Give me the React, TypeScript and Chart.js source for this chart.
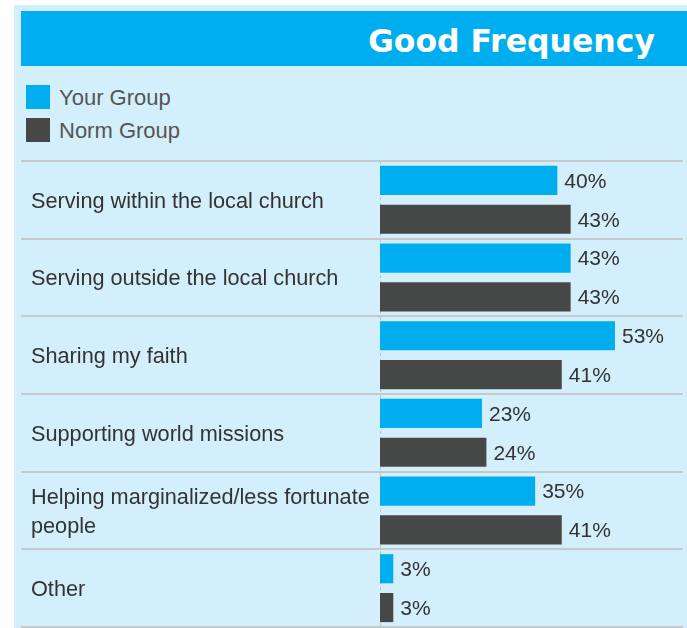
import { useEffect, useRef } from "react";
import { Chart, registerables } from "chart.js";

Chart.register(...registerables);

const TITLE = "Good Frequency";
const SERIES_NAMES = ["Your Group", "Norm Group"];
const CATEGORIES: (string | string[])[] = [
  "Serving within the local church",
  "Serving outside the local church",
  "Sharing my faith",
  "Supporting world missions",
  ["Helping marginalized/less fortunate", "people"],
  "Other",
];
const YOUR_GROUP = [40, 43, 53, 23, 35, 3];
const NORM_GROUP = [43, 43, 41, 24, 41, 3];
const X_MAX = 60;

const BLUE = "#00aeef";
const DARK = "#464847";
const PANEL = "#d4effc";
const SEP = "#c6c9cb";
const FONT = "'Liberation Sans', Arial, sans-serif";
const SERIES_COLORS = [BLUE, DARK];

const framePlugin = {
  id: "frame",
  beforeDatasetsDraw(chart: any) {
    const { ctx } = chart;
    const x = chart.scales.x;
    const y = chart.scales.y;
    const n = CATEGORIES.length;
    ctx.save();
    const x0 = Math.round(x.getPixelForValue(0)) + 0.5;
    ctx.strokeStyle = "#bcc3c7";
    ctx.lineWidth = 1;
    ctx.setLineDash([3, 3]);
    ctx.beginPath();
    ctx.moveTo(x0, y.getPixelForValue(-0.5));
    ctx.lineTo(x0, y.getPixelForValue(n - 0.5));
    ctx.stroke();
    ctx.setLineDash([]);
    ctx.strokeStyle = SEP;
    ctx.lineWidth = 2;
    for (let i = 0; i <= n; i++) {
      const yy = Math.round(y.getPixelForValue(i - 0.5));
      ctx.beginPath();
      ctx.moveTo(21, yy);
      ctx.lineTo(683, yy);
      ctx.stroke();
    }
    ctx.restore();
  },
  afterDatasetsDraw(chart: any) {
    const { ctx } = chart;
    ctx.save();
    ctx.font = `21px ${FONT}`;
    ctx.fillStyle = "#333333";
    ctx.textAlign = "left";
    ctx.textBaseline = "middle";
    chart.data.datasets.forEach((ds: any, di: number) => {
      const meta = chart.getDatasetMeta(di);
      meta.data.forEach((bar: any, i: number) => {
        ctx.fillText(`${ds.data[i]}%`, bar.x + 7, bar.y + 1.5);
      });
    });
    ctx.restore();
  },
};

function App() {
  const canvasRef = useRef<HTMLCanvasElement | null>(null);

  useEffect(() => {
    const canvas = canvasRef.current;
    if (!canvas) return;
    const chart = new Chart(canvas, {
      type: "bar",
      data: {
        labels: CATEGORIES,
        datasets: [
          {
            label: SERIES_NAMES[0],
            data: YOUR_GROUP,
            backgroundColor: BLUE,
            borderWidth: 0,
            categoryPercentage: 1,
            barPercentage: 0.75,
          },
          {
            label: SERIES_NAMES[1],
            data: NORM_GROUP,
            backgroundColor: DARK,
            borderWidth: 0,
            categoryPercentage: 1,
            barPercentage: 0.75,
          },
        ],
      },
      options: {
        indexAxis: "y",
        responsive: false,
        animation: false,
        devicePixelRatio: 1,
        layout: { padding: { left: 31, top: 11, right: 41, bottom: 1 } },
        plugins: {
          legend: { display: false },
          tooltip: { enabled: false },
          title: { display: false },
        },
        scales: {
          x: { display: false, min: 0, max: X_MAX },
          y: {
            grid: { display: false },
            border: { display: false },
            ticks: {
              color: "#333333",
              font: { family: FONT, size: 21.7, lineHeight: 1.3 },
              crossAlign: "far",
              padding: 0,
              labelOffset: 2,
              autoSkip: false,
            },
            afterFit(scale: any) {
              scale.width = 349;
              scale.paddingTop = 0;
              scale.paddingBottom = 0;
            },
          },
        },
      } as any,
      plugins: [framePlugin],
    });
    return () => chart.destroy();
  }, []);

  return (
    <div
      style={{
        position: "absolute",
        left: 0,
        top: 0,
        width: 687,
        height: 628,
        background: "#ffffff",
        overflow: "hidden",
      }}
    >
      <div
        style={{
          position: "absolute",
          left: 14,
          top: 5,
          width: 673,
          height: 623,
          background: PANEL,
        }}
      />
      <div
        style={{
          position: "absolute",
          left: 21,
          top: 11,
          width: 666,
          height: 55,
          background: BLUE,
        }}
      />
      <div
        style={{
          position: "absolute",
          right: 32,
          top: 25,
          lineHeight: "32px",
          fontFamily: "'DejaVu Sans', Verdana, sans-serif",
          fontWeight: "bold",
          fontSize: 31.5,
          color: "#ffffff",
          whiteSpace: "nowrap",
        }}
      >
        {TITLE}
      </div>
      {SERIES_NAMES.map((name, i) => (
        <div key={name}>
          <div
            style={{
              position: "absolute",
              left: 26,
              top: 85 + i * 33,
              width: 24,
              height: 24,
              background: SERIES_COLORS[i],
            }}
          />
          <div
            style={{
              position: "absolute",
              left: 59,
              top: 86 + i * 33,
              lineHeight: "24px",
              fontFamily: FONT,
              fontSize: 22,
              color: "#555555",
              whiteSpace: "nowrap",
            }}
          >
            {name}
          </div>
        </div>
      ))}
      <canvas
        ref={canvasRef}
        width={687}
        height={478}
        style={{ position: "absolute", left: 0, top: 150, width: 687, height: 478, display: "block" }}
      />
    </div>
  );
}

export default App;
